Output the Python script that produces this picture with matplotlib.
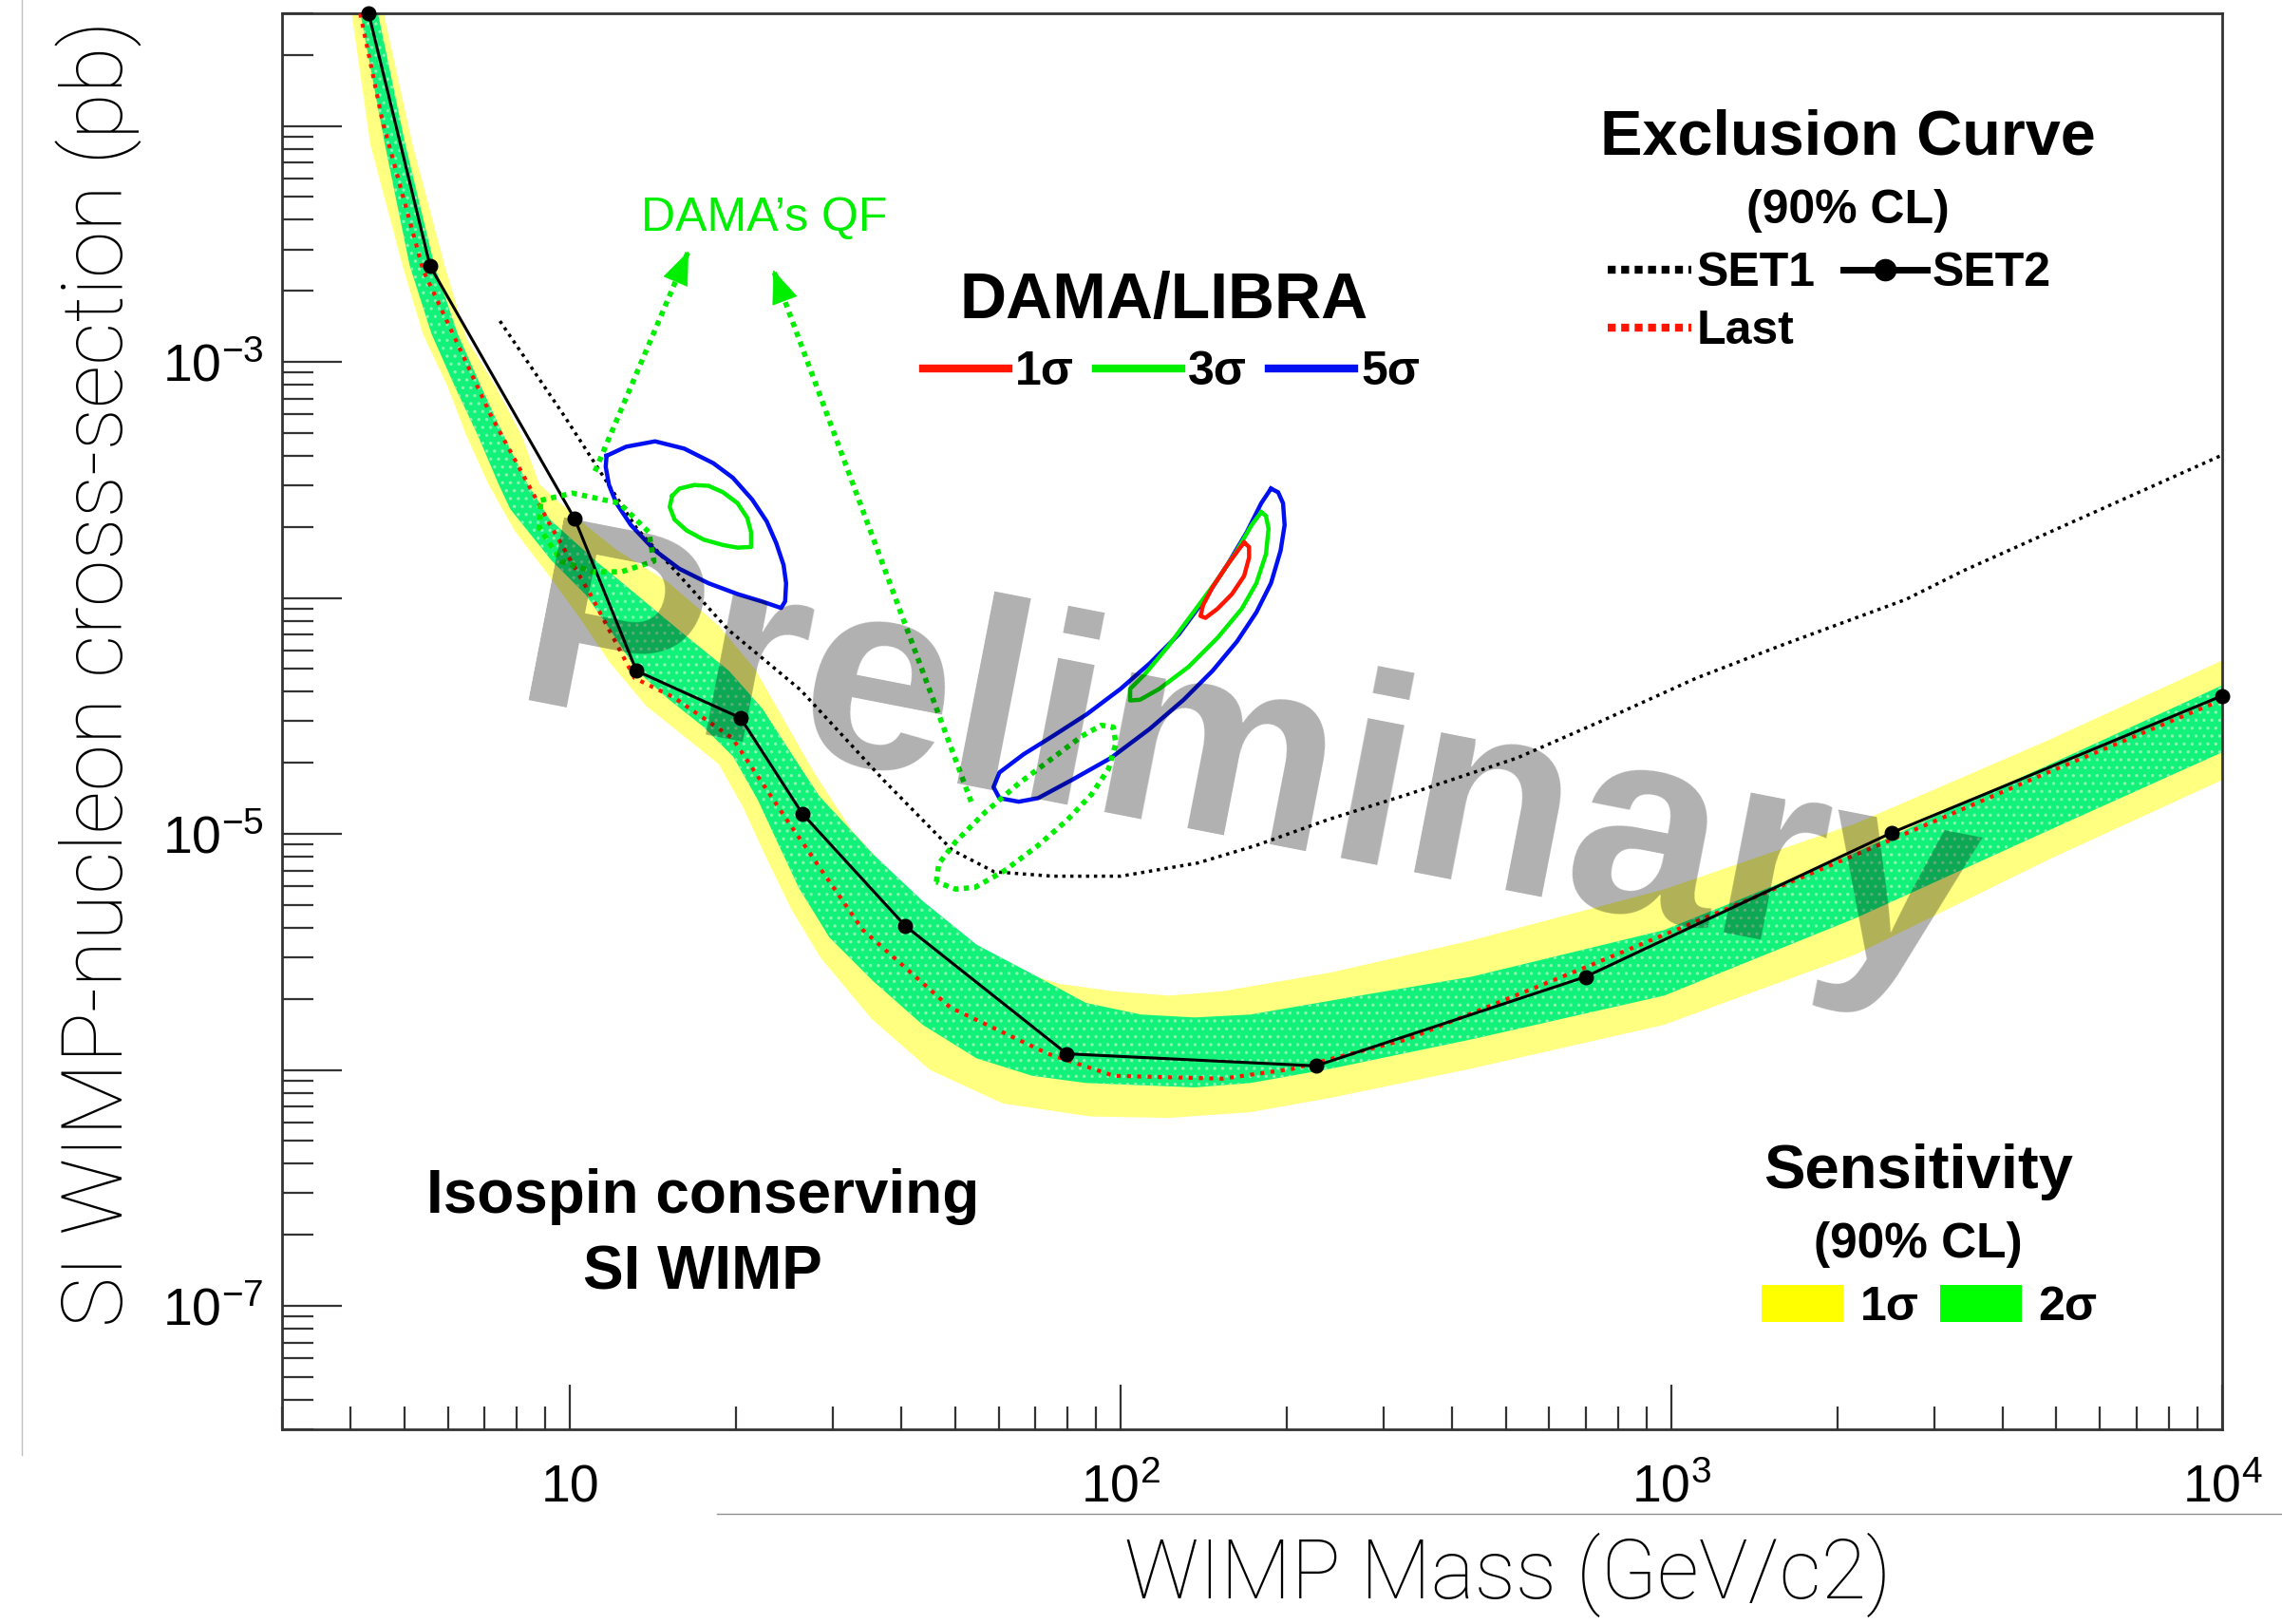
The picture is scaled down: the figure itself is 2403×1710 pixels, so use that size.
import numpy as np
import matplotlib
matplotlib.use('Agg')
import matplotlib.pyplot as plt
from matplotlib.lines import Line2D
from matplotlib.patches import Patch
from matplotlib.ticker import FixedLocator, LogLocator, FuncFormatter, NullFormatter

plt.rcParams['font.family'] = ['Liberation Sans', 'DejaVu Sans']
plt.rcParams['mathtext.fontset'] = 'custom'
plt.rcParams['mathtext.rm'] = 'Liberation Sans'
plt.rcParams['mathtext.it'] = 'Liberation Sans:italic'
plt.rcParams['mathtext.bf'] = 'Liberation Sans:bold'
plt.rcParams['hatch.linewidth'] = 1.2

# ---- exclusion curves (mass in GeV/c2, cross-section in pb) ----
set1_mass = [7.46, 9.76, 13.2, 19.4, 26.2, 37.1, 49.4, 58.9, 75.2, 100, 138, 176,
             238, 332, 525, 742, 1109, 1570, 2667, 3404, 10000]
set1_xsec = [1.49e-3, 5.91e-4, 1.98e-4, 7.31e-5, 4.08e-5, 1.69e-5, 8.55e-6, 6.91e-6,
             6.62e-6, 6.62e-6, 7.53e-6, 8.93e-6, 1.15e-5, 1.47e-5, 2.10e-5, 2.99e-5,
             4.57e-5, 6.25e-5, 9.86e-5, 1.31e-4, 4.03e-4]

set2_mass = [4.31, 5.57, 10.2, 13.2, 20.4, 26.4, 40.6, 79.8, 226, 698, 2507, 10000]
set2_xsec = [2.99e-2, 2.55e-3, 2.16e-4, 4.91e-5, 3.10e-5, 1.22e-5, 4.08e-6, 1.17e-6,
             1.04e-6, 2.48e-6, 1.01e-5, 3.85e-5]

last_mass = [4.16, 4.56, 5.41, 7.19, 9.18, 10.9, 13.1, 15.4, 19.7, 24.8, 34.0, 49.0,
             73.8, 97.1, 153, 205, 332, 703, 1268, 2541, 4818, 10000]
last_xsec = [2.99e-2, 1.06e-2, 2.45e-3, 5.91e-4, 2.06e-4, 1.03e-4, 4.57e-5, 3.80e-5,
             2.55e-5, 1.14e-5, 3.92e-6, 1.84e-6, 1.17e-6, 9.44e-7, 9.18e-7, 1.01e-6,
             1.35e-6, 2.74e-6, 4.84e-6, 9.57e-6, 1.82e-5, 3.70e-5]

# ---- sensitivity bands: outer (1 sigma, yellow) and inner (2 sigma, green) edges ----
yel_up_mass = [4.586, 5.179, 5.922, 6.489, 7.332, 8.180, 8.800, 10.43, 12.15, 15.04,
               18.61, 21.68, 24.49, 27.66, 32.40, 40.84, 49.03, 61.43, 77.44, 97.01,
               122.3, 153.1, 241.9, 434.1, 970.1, 2154, 4814, 10000]
yel_up_xsec = [3.03e-2, 8.31e-3, 2.555e-3, 1.256e-3, 7.855e-4, 4.843e-4, 3.030e-4,
               2.124e-4, 1.598e-4, 1.169e-4, 7.63e-5, 4.983e-5, 3.030e-5, 1.842e-5,
               1.043e-5, 5.744e-6, 3.858e-6, 2.743e-6, 2.313e-6, 2.154e-6, 2.064e-6,
               2.154e-6, 2.592e-6, 3.542e-6, 5.825e-6, 1.104e-5, 2.484e-5, 5.43e-5]
yel_lo_mass = [4.010, 4.341, 4.965, 5.407, 5.995, 6.489, 7.111, 7.934, 9.127, 10.43,
               11.79, 13.73, 15.99, 18.61, 20.64, 22.76, 25.25, 28.51, 35.29, 45.02,
               61.05, 88.01, 122.3, 171.9, 241.9, 434.1, 970.1, 2154, 4814, 10000]
yel_lo_xsec = [3.03e-2, 8.31e-3, 2.555e-3, 1.310e-3, 7.855e-4, 4.843e-4, 3.030e-4,
               1.923e-4, 1.256e-4, 8.195e-5, 5.352e-5, 3.493e-5, 2.630e-5, 1.978e-5,
               1.291e-5, 7.855e-6, 4.775e-6, 2.987e-6, 1.644e-6, 1.0e-6, 7.21e-7,
               6.35e-7, 6.26e-7, 6.62e-7, 7.63e-7, 1.014e-6, 1.553e-6, 3.074e-6,
               7.74e-6, 1.692e-5]

grn_up_mass = [4.475, 5.025, 5.675, 6.256, 6.896, 7.694, 8.381, 9.183, 11.09, 13.23,
               15.99, 19.43, 22.35, 25.25, 28.35, 35.51, 43.68, 54.72, 68.95, 86.42,
               108.9, 136.4, 171.9, 271.6, 434.1, 970.1, 2154, 4814, 10000]
grn_up_xsec = [3.03e-2, 8.31e-3, 2.555e-3, 1.310e-3, 7.855e-4, 4.511e-4, 3.030e-4,
               2.154e-4, 1.447e-4, 1.029e-4, 7.108e-5, 4.913e-5, 3.396e-5, 2.185e-5,
               1.447e-5, 8.20e-6, 5.20e-6, 3.396e-6, 2.555e-6, 1.923e-6, 1.716e-6,
               1.668e-6, 1.716e-6, 2.064e-6, 2.484e-6, 3.914e-6, 8.31e-6, 1.950e-5,
               4.262e-5]
grn_lo_mass = [4.159, 4.613, 5.117, 5.608, 6.180, 6.813, 7.420, 7.790, 9.239, 10.69,
               11.79, 13.23, 15.04, 17.41, 19.79, 21.95, 23.89, 26.03, 29.57, 35.51,
               43.68, 54.72, 68.95, 86.42, 136.4, 171.9, 241.9, 434.1, 970.1, 2154,
               4814, 10000]
grn_lo_xsec = [3.03e-2, 8.31e-3, 2.555e-3, 1.310e-3, 7.855e-4, 4.843e-4, 3.030e-4,
               2.379e-4, 1.447e-4, 1.029e-4, 7.418e-5, 4.913e-5, 3.750e-5, 2.862e-5,
               2.124e-5, 1.387e-5, 9.05e-6, 5.91e-6, 3.645e-6, 2.379e-6, 1.553e-6,
               1.120e-6, 9.45e-7, 8.80e-7, 8.43e-7, 8.80e-7, 1.014e-6, 1.348e-6,
               2.064e-6, 4.385e-6, 1.029e-5, 2.217e-5]

# ---- DAMA/LIBRA allowed regions ----
dama_low_5s_mass = [11.65, 12.64, 14.27, 16.12, 18.20, 19.75, 21.42, 22.76, 23.69,
                    24.42, 24.68, 24.58, 24.17, 22.29, 20.15, 17.84, 15.79, 14.27,
                    12.90, 12.14, 11.77, 11.61]
dama_low_5s_xsec = [4.000e-4, 4.371e-4, 4.608e-4, 4.292e-4, 3.724e-4, 3.231e-4,
                    2.610e-4, 2.109e-4, 1.704e-4, 1.379e-4, 1.154e-4, 9.665e-5,
                    9.066e-5, 9.665e-5, 1.038e-4, 1.154e-4, 1.329e-4, 1.587e-4,
                    2.035e-4, 2.518e-4, 3.008e-4, 3.594e-4]
dama_low_3s_mass = [15.33, 15.79, 16.79, 17.84, 18.96, 20.15, 20.98, 21.32, 21.32,
                    20.15, 18.96, 17.48, 16.28, 15.48, 15.17]
dama_low_3s_xsec = [2.704e-4, 2.904e-4, 3.008e-4, 2.986e-4, 2.803e-4, 2.518e-4,
                    2.185e-4, 1.896e-4, 1.644e-4, 1.633e-4, 1.675e-4, 1.766e-4,
                    1.931e-4, 2.148e-4, 2.430e-4]
dama_high_5s_mass = [187.4, 193.1, 197.1, 198.4, 195.1, 187.4, 176.3, 162.6, 146.9,
                     130.1, 112.9, 95.94, 81.56, 70.79, 65.27, 60.21, 58.75, 60.21,
                     66.59, 75.25, 86.74, 99.93, 112.9, 127.5, 141.1, 156.1, 169.3,
                     179.9]
dama_high_5s_xsec = [2.904e-4, 2.803e-4, 2.518e-4, 2.035e-4, 1.587e-4, 1.154e-4,
                     8.687e-5, 6.537e-5, 4.920e-5, 3.703e-5, 2.787e-5, 2.097e-5,
                     1.694e-5, 1.418e-5, 1.369e-5, 1.418e-5, 1.578e-5, 1.820e-5,
                     2.173e-5, 2.596e-5, 3.212e-5, 4.117e-5, 5.282e-5, 7.018e-5,
                     9.665e-5, 1.379e-4, 1.896e-4, 2.518e-4]
dama_high_3s_mass = [179.9, 183.5, 185.5, 183.5, 176.3, 165.9, 149.9, 132.7, 117.5,
                     108.4, 104.0, 104.0, 110.6, 122.4, 135.5, 149.9, 162.6, 172.8]
dama_high_3s_xsec = [2.307e-4, 2.226e-4, 1.964e-4, 1.532e-4, 1.154e-4, 9.00e-5,
                     6.774e-5, 5.098e-5, 4.117e-5, 3.703e-5, 3.677e-5, 4.117e-5,
                     4.748e-5, 6.310e-5, 8.687e-5, 1.196e-4, 1.587e-4, 2.035e-4]
dama_high_1s_mass = [167.5, 171.0, 171.0, 167.5, 159.2, 149.9, 142.5, 139.6, 141.1,
                     146.9, 156.1, 164.2]
dama_high_1s_xsec = [1.716e-4, 1.644e-4, 1.481e-4, 1.239e-4, 1.038e-4, 9.00e-5,
                     8.229e-5, 8.384e-5, 9.329e-5, 1.114e-4, 1.379e-4, 1.617e-4]

# regions with DAMA's quenching factor
qf_low_mass = [8.85, 10.1, 12.3, 13.9, 14.2, 12.4, 11.0, 9.64, 8.80]
qf_low_xsec = [2.59e-4, 2.78e-4, 2.52e-4, 1.90e-4, 1.43e-4, 1.29e-4, 1.29e-4, 1.43e-4, 1.98e-4]
qf_high_mass = [46.25, 46.73, 50.15, 56.64, 65.27, 75.25, 85.03, 92.18, 96.94, 97.95,
                95.01, 88.49, 79.99, 70.79, 61.43, 54.40, 50.15]
qf_high_xsec = [6.262e-6, 7.481e-6, 9.261e-6, 1.231e-5, 1.635e-5, 2.097e-5, 2.596e-5,
                2.887e-5, 2.834e-5, 2.417e-5, 1.885e-5, 1.470e-5, 1.146e-5, 8.937e-6,
                6.967e-6, 5.940e-6, 5.834e-6]
qf_arrow_start = [(11.1, 3.44e-4), (53.5, 1.37e-5)]
qf_arrow_end = [(16.4, 2.94e-3), (23.4, 2.45e-3)]

# axis ticks
x_major = [10, 100, 1000, 10000]
y_major = [1e-7, 1e-6, 1e-5, 1e-4, 1e-3, 1e-2]

GREEN = '#00ee00'
RED = '#ff1500'
BLUE = '#0010f0'


def closed(xs, ys):
    return list(xs) + [xs[0]], list(ys) + [ys[0]]


fig = plt.figure(figsize=(24.03, 17.10), dpi=100)
ax = fig.add_axes([0.1236, 0.1199, 0.8502, 0.8719])
ax.set_xscale('log')
ax.set_yscale('log')
ax.set_xlim(3, 1e4)
ax.set_ylim(3e-8, 3e-2)

# bands
ax.fill(yel_up_mass + yel_lo_mass[::-1], yel_up_xsec + yel_lo_xsec[::-1],
        facecolor='#ffff80', edgecolor='none', zorder=1)
ax.fill(grn_up_mass + grn_lo_mass[::-1], grn_up_xsec + grn_lo_xsec[::-1],
        facecolor='#12f27a', edgecolor='#86f7b0', hatch='..', linewidth=0, zorder=2)

# curves
ax.plot(set1_mass, set1_xsec, color='black', lw=2.5, ls=(0, (1.0, 1.4)), zorder=5)
ax.plot(last_mass, last_xsec, color=RED, lw=3, ls=(0, (1.0, 1.6)), zorder=5)
ax.plot(set2_mass, set2_xsec, color='black', lw=2.2, marker='o', ms=10.5, zorder=6,
        clip_on=False)

# DAMA contours
for m, s, c in [(dama_low_5s_mass, dama_low_5s_xsec, BLUE),
                (dama_low_3s_mass, dama_low_3s_xsec, GREEN),
                (dama_high_5s_mass, dama_high_5s_xsec, BLUE),
                (dama_high_3s_mass, dama_high_3s_xsec, GREEN),
                (dama_high_1s_mass, dama_high_1s_xsec, RED)]:
    cx, cy = closed(m, s)
    ax.plot(cx, cy, color=c, lw=3.2, zorder=7, solid_joinstyle='round')

for m, s in [(qf_low_mass, qf_low_xsec), (qf_high_mass, qf_high_xsec)]:
    cx, cy = closed(m, s)
    ax.plot(cx, cy, color=GREEN, lw=4, ls=(0, (1.0, 1.0)), zorder=7)

# dotted arrows pointing at the QF label, solid heads
for st, en in zip(qf_arrow_start, qf_arrow_end):
    ax.plot([st[0], en[0]], [st[1], en[1]], color=GREEN, lw=4, ls=(0, (1.0, 1.0)),
            zorder=7)
    back = (st[0] ** 0.05 * en[0] ** 0.95, st[1] ** 0.05 * en[1] ** 0.95)
    ax.annotate('', xy=en, xytext=back,
                arrowprops=dict(arrowstyle='-|>,head_length=0.8,head_width=0.32',
                                color=GREEN, lw=0.5, shrinkA=0, shrinkB=0,
                                mutation_scale=30),
                zorder=7)

# watermark
ax.text(7.79, 3.70e-5, 'Preliminary', rotation=-11, rotation_mode='anchor',
        ha='left', va='baseline', fontsize=205, fontweight='bold',
        color='black', alpha=0.31, zorder=9)

# axes styling
for sp in ax.spines.values():
    sp.set_linewidth(2)
    sp.set_color('#333333')

ax.xaxis.set_major_locator(FixedLocator(x_major))
xlabels = {10: '10', 100: r'$\mathrm{10^{2}}$', 1000: r'$\mathrm{10^{3}}$',
           10000: r'$\mathrm{10^{4}}$'}
ax.xaxis.set_major_formatter(FuncFormatter(lambda v, p: xlabels.get(int(round(v)), '')))
ax.xaxis.set_minor_locator(LogLocator(base=10, subs=range(2, 10), numticks=50))
ax.xaxis.set_minor_formatter(NullFormatter())

ax.yaxis.set_major_locator(FixedLocator(y_major))


def ylab(v, p):
    # only every second decade carries a label
    e = int(round(np.log10(v)))
    if e % 2 != 0:
        return r'$\mathrm{10^{%d}}$' % e
    return ''


ax.yaxis.set_major_formatter(FuncFormatter(ylab))
ax.yaxis.set_minor_locator(LogLocator(base=10, subs=range(2, 10), numticks=50))
ax.yaxis.set_minor_formatter(NullFormatter())

ax.tick_params(which='both', direction='in', top=False, right=False, color='#333333',
               width=1.6, labelsize=40)
ax.xaxis.set_tick_params(which='major', length=34, pad=26)
ax.xaxis.set_tick_params(which='minor', length=17)
ax.yaxis.set_tick_params(which='major', length=45, pad=14)
ax.yaxis.set_tick_params(which='minor', length=24)

ax.set_ylabel('SI WIMP-nucleon cross-section (pb)', fontsize=64.3, family='Roboto',
              fontweight='light')
ax.yaxis.set_label_coords(-0.0945, 0.534)
ax.yaxis.label.set_va('center')
ax.set_xlabel('WIMP Mass (GeV/c2)', fontsize=62.5, family='Roboto', fontweight='light')
ax.xaxis.set_label_coords(0.632, -0.103)
ax.xaxis.label.set_va('center')

# annotations
ax.text(0.2483, 0.8551, "DAMA\u2019s QF", transform=ax.transAxes, ha='center',
        va='center', fontsize=36, color=GREEN)
ax.text(0.4546, 0.7965, 'DAMA/LIBRA', transform=ax.transAxes, ha='center',
        va='center', fontsize=49, fontweight='bold')
ax.text(0.8072, 0.9116, 'Exclusion Curve', transform=ax.transAxes, ha='center',
        va='center', fontsize=48, fontweight='bold')
ax.text(0.8072, 0.8602, '(90% CL)', transform=ax.transAxes, ha='center',
        va='center', fontsize=36, fontweight='bold')
ax.text(0.2168, 0.1644, 'Isospin conserving', transform=ax.transAxes, ha='center',
        va='center', fontsize=46, fontweight='bold')
ax.text(0.2168, 0.1100, 'SI WIMP', transform=ax.transAxes, ha='center',
        va='center', fontsize=46, fontweight='bold')
ax.text(0.8432, 0.1819, 'Sensitivity', transform=ax.transAxes, ha='center',
        va='center', fontsize=47, fontweight='bold')
ax.text(0.8432, 0.1305, '(90% CL)', transform=ax.transAxes, ha='center',
        va='center', fontsize=37, fontweight='bold')

legprop = {'weight': 'bold', 'size': 36}

dama_handles = [Line2D([], [], color=RED, lw=6),
                Line2D([], [], color=GREEN, lw=6),
                Line2D([], [], color=BLUE, lw=6)]
leg1 = ax.legend(dama_handles, ['1\u03c3', '3\u03c3', '5\u03c3'], ncol=3, loc='center',
                 bbox_to_anchor=(0.4584, 0.7462), frameon=False, prop=legprop,
                 handlelength=1.8, handletextpad=0.15, columnspacing=0.45,
                 borderpad=0, borderaxespad=0)
ax.add_artist(leg1)

excl_handles = [Line2D([], [], color='black', lw=6, ls=(0, (1.0, 0.7))),
                Line2D([], [], color=RED, lw=6, ls=(0, (1.0, 0.7))),
                Line2D([], [], color='black', lw=5, marker='o', ms=16)]
leg2 = ax.legend(excl_handles, ['SET1', 'Last', 'SET2'], ncol=2, loc='center',
                 bbox_to_anchor=(0.7975, 0.7955), frameon=False, prop=legprop,
                 handlelength=1.76, handletextpad=0.1, columnspacing=0.6,
                 labelspacing=0.3, borderpad=0, borderaxespad=0, numpoints=1)
ax.add_artist(leg2)

sens_handles = [Patch(facecolor='#ffff00', edgecolor='none'),
                Patch(facecolor='#00ff00', edgecolor='none')]
ax.legend(sens_handles, ['1\u03c3', '2\u03c3'], ncol=2, loc='center',
          bbox_to_anchor=(0.8492, 0.0863), frameon=False, prop=legprop,
          handlelength=1.72, handleheight=0.82, handletextpad=0.35,
          columnspacing=0.45, borderpad=0, borderaxespad=0)

# thin slide guide lines around the plot
fig.add_artist(Line2D([23 / 2403, 23 / 2403], [1 - 1532 / 1710, 1],
                      transform=fig.transFigure, color='#c0c0c0', lw=1))
fig.add_artist(Line2D([755 / 2403, 1], [1 - 1594 / 1710, 1 - 1594 / 1710],
                      transform=fig.transFigure, color='#909090', lw=1))

fig.savefig('out.png', dpi=100, facecolor='white')
